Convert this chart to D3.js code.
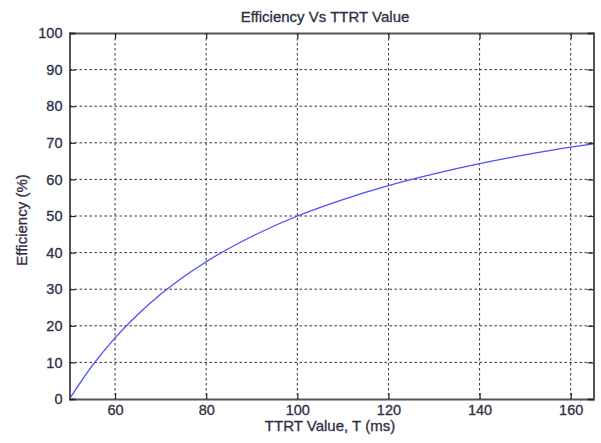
<!DOCTYPE html>
<html>
<head>
<meta charset="utf-8">
<script src="https://cdn.jsdelivr.net/npm/d3@7"></script>
<style>
  html, body { margin: 0; padding: 0; background: #fff; }
  svg { display: block; font-family: "Liberation Sans", Arial, sans-serif; }
</style>
</head>
<body>
<svg id="chart" width="601" height="443"></svg>
<script>
// TTRT value T (ms) and the efficiency (%)
const ttrt       = [50, 52, 55, 60, 65, 70, 80, 90, 100, 110, 120, 130, 140, 150, 160, 165];
const efficiency = [0, 3.8, 9.1, 16.7, 23.1, 28.6, 37.5, 44.4, 50.0, 54.5, 58.3, 61.5, 64.3, 66.7, 68.8, 69.7];
const xTicks = [60, 80, 100, 120, 140, 160];
const yTicks = [0, 10, 20, 30, 40, 50, 60, 70, 80, 90, 100];

const svg = d3.select("#chart");
const m = { left: 69.5, top: 33, right: 593.5, bottom: 399 };
const x = d3.scaleLinear().domain([50, 165]).range([m.left, m.right]);
const y = d3.scaleLinear().domain([0, 100]).range([m.bottom, m.top]);
const textColor = "#2e2e44";

// grid
const grid = svg.append("g").attr("stroke", "#333").attr("stroke-width", 1)
  .attr("stroke-dasharray", "2.5,2.5");
grid.selectAll("line.gx").data(xTicks).join("line")
  .attr("x1", d => x(d)).attr("x2", d => x(d))
  .attr("y1", m.top).attr("y2", m.bottom);
grid.selectAll("line.gy").data(yTicks.filter(d => d > 0 && d < 100)).join("line")
  .attr("x1", m.left).attr("x2", m.right)
  .attr("y1", d => y(d)).attr("y2", d => y(d));

// curve
const line = d3.line().x((d, i) => x(ttrt[i])).y(d => y(d)).curve(d3.curveMonotoneX);
svg.append("path").datum(efficiency)
  .attr("fill", "none").attr("stroke", "#4d4dff").attr("stroke-width", 1.3)
  .attr("d", line);

// axes with inward ticks, box on all sides
const axisColor = "#555";
const xAxis = svg.append("g").attr("transform", `translate(0,${m.bottom})`)
  .call(d3.axisBottom(x).tickValues(xTicks).tickSize(-6).tickPadding(6));
const xTop = svg.append("g").attr("transform", `translate(0,${m.top})`)
  .call(d3.axisTop(x).tickValues(xTicks).tickSize(-6).tickFormat(""));
const yAxis = svg.append("g").attr("transform", `translate(${m.left},0)`)
  .call(d3.axisLeft(y).tickValues(yTicks).tickSize(-6).tickPadding(7));
const yRight = svg.append("g").attr("transform", `translate(${m.right},0)`)
  .call(d3.axisRight(y).tickValues(yTicks).tickSize(-6).tickFormat(""));
[xAxis, xTop, yAxis, yRight].forEach(g => {
  g.select(".domain").attr("stroke", axisColor).attr("stroke-width", 2);
  g.selectAll(".tick line").attr("stroke", "#222").attr("stroke-width", 1.2);
  g.selectAll(".tick text").attr("fill", textColor)
    .attr("stroke", textColor).attr("stroke-width", 0.3)
    .style("font-size", "14.5px").style("font-family", "Liberation Sans, Arial, sans-serif");
});

// titles
const labelStyle = sel => sel.attr("text-anchor", "middle").attr("fill", textColor)
  .attr("stroke", textColor).attr("stroke-width", 0.3).style("font-size", "15px");
svg.append("text").attr("x", 325).attr("y", 22)
  .call(labelStyle).text("Efficiency Vs TTRT Value");
svg.append("text").attr("x", 330).attr("y", 431)
  .call(labelStyle).text("TTRT Value, T (ms)");
svg.append("text")
  .attr("transform", `translate(27,220) rotate(-90)`)
  .call(labelStyle).text("Efficiency (%)");
</script>
</body>
</html>
